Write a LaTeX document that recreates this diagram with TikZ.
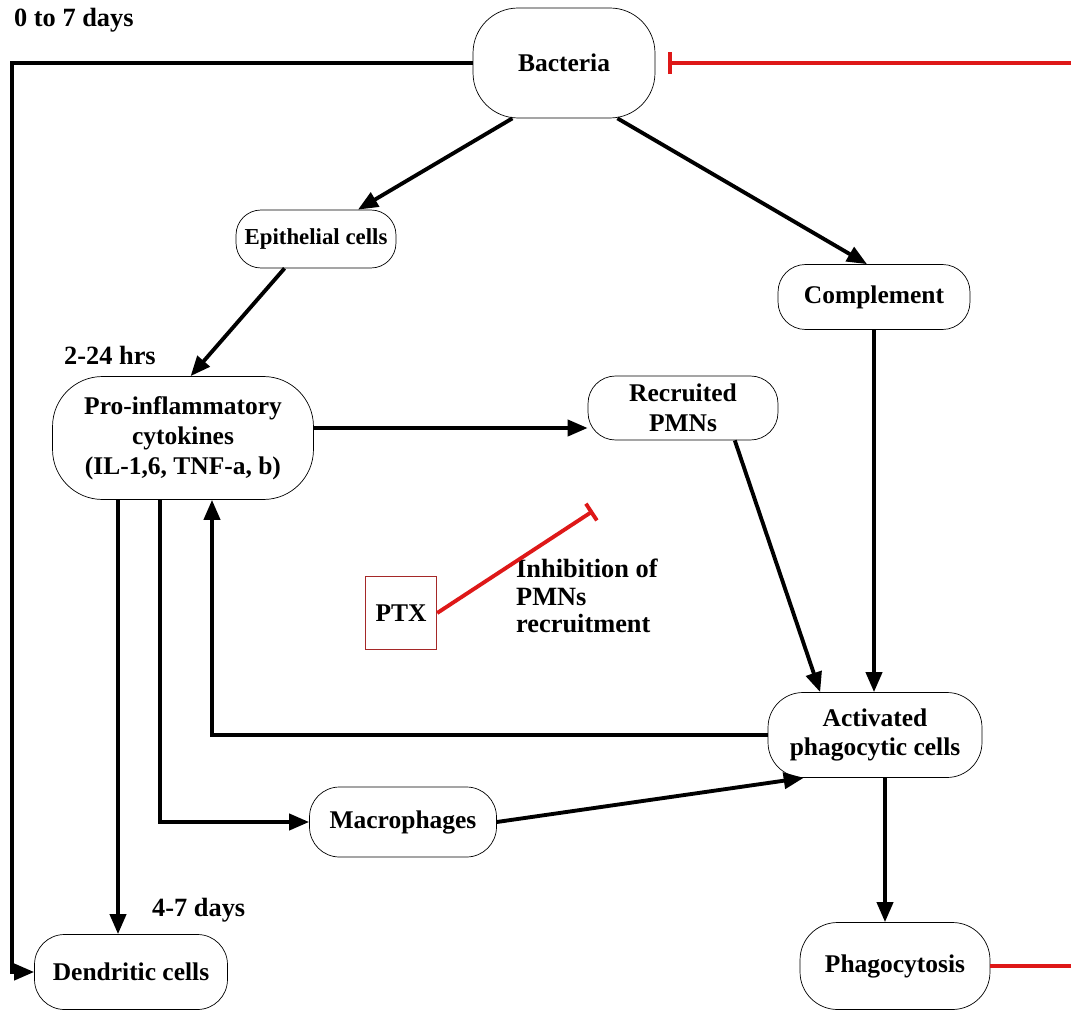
\documentclass[tikz,border=0pt]{standalone}
\usepackage{fontspec}
\setmainfont{Liberation Serif}
\usetikzlibrary{arrows.meta}
\definecolor{inhred}{RGB}{222,24,24}
\definecolor{ptxred}{RGB}{165,40,40}

\begin{document}
\begin{tikzpicture}[x=0.02cm, y=-0.02cm,
    cell/.style={draw, thin, rounded corners=0.55cm, align=center, inner sep=2pt,
      font=\bfseries\fontsize{14.5}{17}\selectfont},
    flow/.style={line width=2.2pt, -{Triangle[length=0.4cm,width=0.32cm]}},
    inhib/.style={draw=inhred, line width=2.2pt},
    note/.style={font=\bfseries\fontsize{15}{15.5}\selectfont, align=left}]
  \useasboundingbox (0,0) rectangle (1071,1013);
  \fill[white] (0,0) rectangle (1071,1013);

  % Cells and signals
  \node[cell, minimum width=3.64cm, minimum height=2.2cm, rounded corners=0.9cm] (bact) at (564,63) {Bacteria};
  \node[cell, minimum width=3.2cm, minimum height=1.16cm, rounded corners=0.5cm,
        font=\bfseries\fontsize{13}{15}\selectfont] (epi) at (316,239) {Epithelial cells};
  \node[cell, minimum width=3.84cm, minimum height=1.3cm] (comp) at (874,297) {Complement};
  \node[cell, minimum width=5.22cm, minimum height=2.46cm, rounded corners=1cm] (pro) at (183,438)
    {Pro-inflammatory\\cytokines\\(IL-1,6, TNF-a, b)};
  \node[cell, minimum width=3.8cm, minimum height=1.28cm] (rec) at (683,408) {Recruited\\PMNs};
  \node[draw=ptxred, thick, minimum width=1.42cm, minimum height=1.46cm,
        font=\bfseries\fontsize{14.5}{17}\selectfont] (ptx) at (401,613) {PTX};
  \node[cell, minimum width=4.28cm, minimum height=1.7cm, rounded corners=0.7cm] (act) at (875,735)
    {Activated\\phagocytic cells};
  \node[cell, minimum width=3.74cm, minimum height=1.4cm, rounded corners=0.6cm] (mac) at (403,822) {Macrophages};
  \node[cell, minimum width=3.86cm, minimum height=1.5cm, rounded corners=0.6cm] (dend) at (131,972) {Dendritic cells};
  \node[cell, minimum width=3.8cm, minimum height=1.74cm, rounded corners=0.75cm] (phag) at (895,966) {Phagocytosis};

  % Time labels
  \node[note, anchor=west] (t0) at (8,20) {0 to 7 days};
  \node[note, anchor=west] (t1) at (58,355) {2-24 hrs};
  \node[note, anchor=west] (t2) at (146,910) {4-7 days};
  \node[note, anchor=north west] (inh) at (510,553) {Inhibition of\\PMNs\\recruitment};

  % Free ends
  \coordinate (lrail) at (12,0);
  \coordinate (redtop) at (1071,63);
  \coordinate (redlow) at (1071,966);
  \coordinate (ptxhit) at (593,511);

  % Activating paths
  \draw[flow] (bact.west) -- (bact.west -| lrail) |- (dend.west);
  \draw[flow] (bact.227) -- (epi.35);
  \draw[flow] (bact.-46) -- (comp.102);
  \draw[flow] (epi.223) -- (pro.83);
  \draw[flow] (comp.south) -- (comp.south |- act.north);
  \draw[flow] ([yshift=0.2cm]pro.east) -- ([yshift=0.2cm]pro.east -| rec.west);
  \draw[flow] (rec.-32) -- (act.142);
  \draw[flow] (act.west) -| ([xshift=0.58cm]pro.south);
  \draw[flow] ([xshift=-1.3cm]pro.south) -- ([xshift=-1.3cm]pro.south |- dend.north);
  \draw[flow] ([xshift=-0.46cm]pro.south) |- (mac.west);
  \draw[flow] (mac.east) -- (act.211);
  \draw[flow] ([xshift=0.2cm]act.south) -- ([xshift=0.2cm]act.south |- phag.north);

  % Inhibition
  \draw[inhib, -{Bar[width=0.45cm]}, shorten >=0.26cm] (redtop) -- (bact.east);
  \draw[inhib] (phag.east) -- (redlow);
  \draw[inhib, -{Bar[width=0.4cm]}] (ptx.east) -- (ptxhit);
\end{tikzpicture}
\end{document}
